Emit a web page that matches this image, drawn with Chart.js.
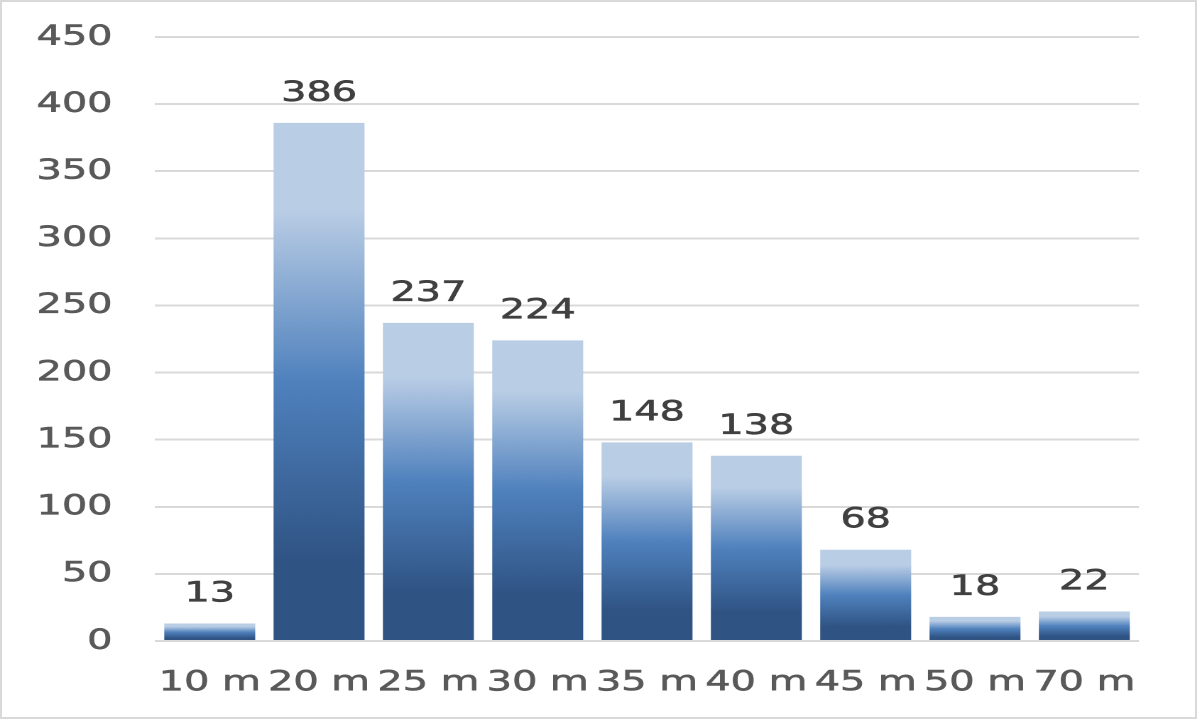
<!DOCTYPE html>
<html>
<head>
<meta charset="utf-8">
<script src="https://cdn.jsdelivr.net/npm/chart.js@4"></script>
<style>
  html, body { margin: 0; padding: 0; background: #fff; width: 1200px; height: 721px; overflow: hidden; }
  #frame { position: absolute; left: 0; top: 0; width: 1197px; height: 719px; box-sizing: border-box; border: 2.5px solid #D9D9D9; }
  #wrap { position: absolute; left: 0; top: 0; width: 845.1px; height: 721px; transform: scaleX(1.42); transform-origin: 0 0; }
</style>
</head>
<body>
<div id="wrap"><canvas id="c"></canvas></div>
<div id="frame"></div>
<script>
const categories = ['10 m', '20 m', '25 m', '30 m', '35 m', '40 m', '45 m', '50 m', '70 m'];
const values = [13, 386, 237, 224, 148, 138, 68, 18, 22];
const yMin = 0, yMax = 450, yStep = 50;

const FONT = "'DejaVu Sans', Verdana, sans-serif";
const FSIZE = 28;

function barGradient(ctx) {
  const chart = ctx.chart;
  if (!chart.chartArea || !chart.scales.y) return '#4F81BD';
  const y = chart.scales.y;
  const top = y.getPixelForValue(ctx.raw);
  const bottom = y.getPixelForValue(0);
  if (!isFinite(top) || !isFinite(bottom) || top === bottom) return '#4F81BD';
  const g = chart.ctx.createLinearGradient(0, top, 0, bottom);
  g.addColorStop(0, '#B9CDE5');
  g.addColorStop(0.17, '#B9CDE5');
  g.addColorStop(0.5, '#4F81BD');
  g.addColorStop(0.85, '#2F5383');
  g.addColorStop(1, '#2F5383');
  return g;
}

const valueLabels = {
  id: 'valueLabels',
  afterDatasetsDraw(chart) {
    const ctx = chart.ctx;
    const meta = chart.getDatasetMeta(0);
    ctx.save();
    ctx.font = FSIZE + 'px ' + FONT;
    ctx.fillStyle = '#404040';
    ctx.strokeStyle = '#404040';
    ctx.lineWidth = 0.6;
    ctx.textAlign = 'center';
    ctx.textBaseline = 'alphabetic';
    meta.data.forEach((bar, i) => {
      ctx.fillText(String(values[i]), bar.x, bar.y - 22.5);
      ctx.strokeText(String(values[i]), bar.x, bar.y - 22.5);
    });
    ctx.restore();
  }
};

new Chart(document.getElementById('c'), {
  type: 'bar',
  data: {
    labels: categories,
    datasets: [{
      data: values,
      backgroundColor: barGradient,
      borderWidth: 0,
      categoryPercentage: 1,
      barPercentage: 0.832
    }]
  },
  options: {
    responsive: true,
    maintainAspectRatio: false,
    devicePixelRatio: 2,
    animation: false,
    layout: { padding: { left: 4, right: 43, top: 37, bottom: 0 } },
    plugins: { legend: { display: false }, tooltip: { enabled: false } },
    scales: {
      x: {
        grid: { display: false, drawTicks: false },
        border: { display: false },
        ticks: { color: '#595959', textStrokeColor: '#595959', textStrokeWidth: 0.6, font: { family: FONT, size: FSIZE }, padding: 25, maxRotation: 0, autoSkip: false },
        afterFit(scale) { scale.height = 80; }
      },
      y: {
        min: yMin, max: yMax,
        grid: { color: '#D9D9D9', lineWidth: 2, drawTicks: false },
        border: { display: false },
        ticks: { stepSize: yStep, color: '#595959', textStrokeColor: '#595959', textStrokeWidth: 0.6, font: { family: FONT, size: FSIZE }, padding: 30 },
        afterFit(scale) { scale.width = 105.2; scale.paddingTop = 0; scale.paddingBottom = 0; }
      }
    }
  },
  plugins: [valueLabels]
});
</script>
</body>
</html>
